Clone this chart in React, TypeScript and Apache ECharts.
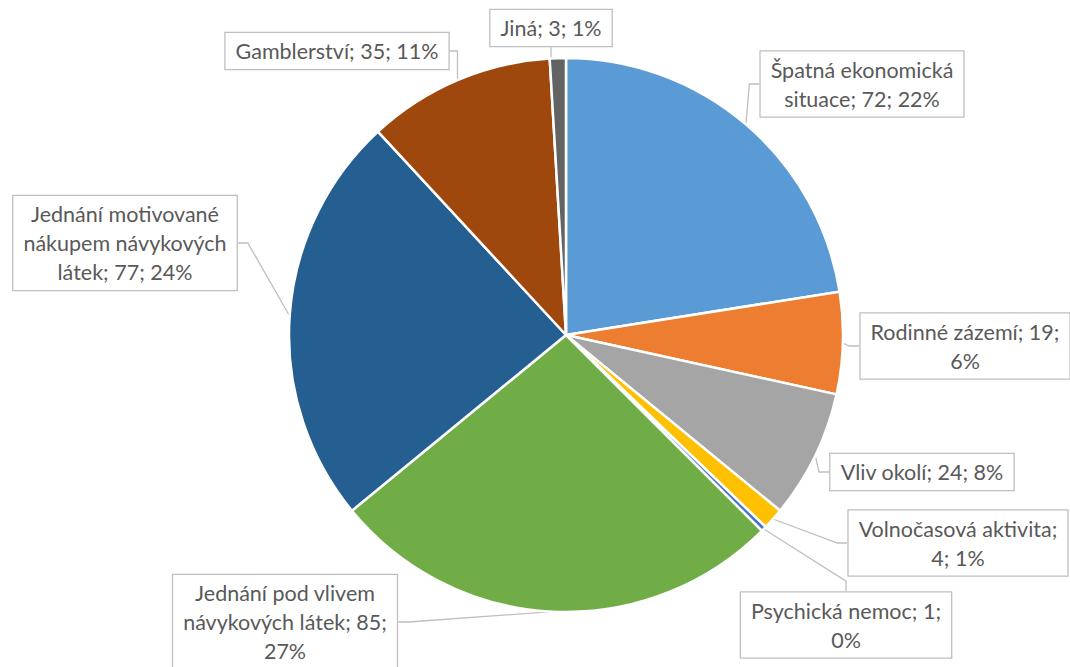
import React, { useEffect, useRef } from "react";
import * as echarts from "echarts";

const categories = [
  "Špatná ekonomická situace",
  "Rodinné zázemí",
  "Vliv okolí",
  "Volnočasová aktivita",
  "Psychická nemoc",
  "Jednání pod vlivem návykových látek",
  "Jednání motivované nákupem návykových látek",
  "Gamblerství",
  "Jiná",
];
const values = [72, 19, 24, 4, 1, 85, 77, 35, 3];
const percentLabels = ["22%", "6%", "8%", "1%", "0%", "27%", "24%", "11%", "1%"];
const labelTemplates = [
  "Špatná ekonomická\nsituace; {v}; {p}",
  "Rodinné zázemí; {v};\n{p}",
  "Vliv okolí; {v}; {p}",
  "Volnočasová aktivita;\n{v}; {p}",
  "Psychická nemoc; {v};\n{p}",
  "Jednání pod vlivem\nnávykových látek; {v};\n{p}",
  "Jednání motivované\nnákupem návykových\nlátek; {v}; {p}",
  "Gamblerství; {v}; {p}",
  "Jiná; {v}; {p}",
];
const colors = ["#5B9BD5", "#ED7D31", "#A5A5A5", "#FFC000", "#4472C4", "#70AD47", "#255E91", "#9E480E", "#636363"];
const labelPositions = [
  [862, 84],
  [965, 346],
  [922, 472],
  [958, 543],
  [846, 625],
  [285, 622],
  [125, 243],
  [337, 51],
  [551, 28],
];

export default function App() {
  const ref = useRef<HTMLDivElement>(null);
  useEffect(() => {
    if (!ref.current) return;
    const chart = echarts.init(ref.current, null, { renderer: "svg" });
    chart.setOption({
      animation: false,
      backgroundColor: "#ffffff",
      series: [
        {
          type: "pie",
          center: [566, 335],
          radius: 277,
          startAngle: 90,
          clockwise: true,
          avoidLabelOverlap: false,
          minShowLabelAngle: 0,
          itemStyle: { borderColor: "#ffffff", borderWidth: 2.5 },
          data: categories.map((name, i) => ({
            name,
            value: values[i],
            itemStyle: { color: colors[i] },
          })),
          label: {
            show: true,
            formatter: (p: any) =>
              labelTemplates[p.dataIndex]
                .replace("{v}", String(values[p.dataIndex]))
                .replace("{p}", percentLabels[p.dataIndex]),
            fontFamily: "Lato, 'Open Sans', sans-serif",
            fontSize: 21.5,
            lineHeight: 29,
            color: "#595959",
            align: "center",
            backgroundColor: "#ffffff",
            borderColor: "#bfbfbf",
            borderWidth: 1.3,
            padding: [4, 10, 3, 10],
          },
          labelLine: {
            show: true,
            length: 10,
            length2: 10,
            lineStyle: { color: "#bfbfbf", width: 1.3 },
          },
          labelLayout: (params: any) => {
            const pos = labelPositions[params.dataIndex];
            return {
              x: pos[0],
              y: pos[1],
              align: "center",
              verticalAlign: "middle",
              hideOverlap: false,
            };
          },
        },
      ],
    });
    return () => chart.dispose();
  }, []);
  return (
    <div
      ref={ref}
      style={{ position: "fixed", left: 0, top: 0, width: 1070, height: 667 }}
    />
  );
}
